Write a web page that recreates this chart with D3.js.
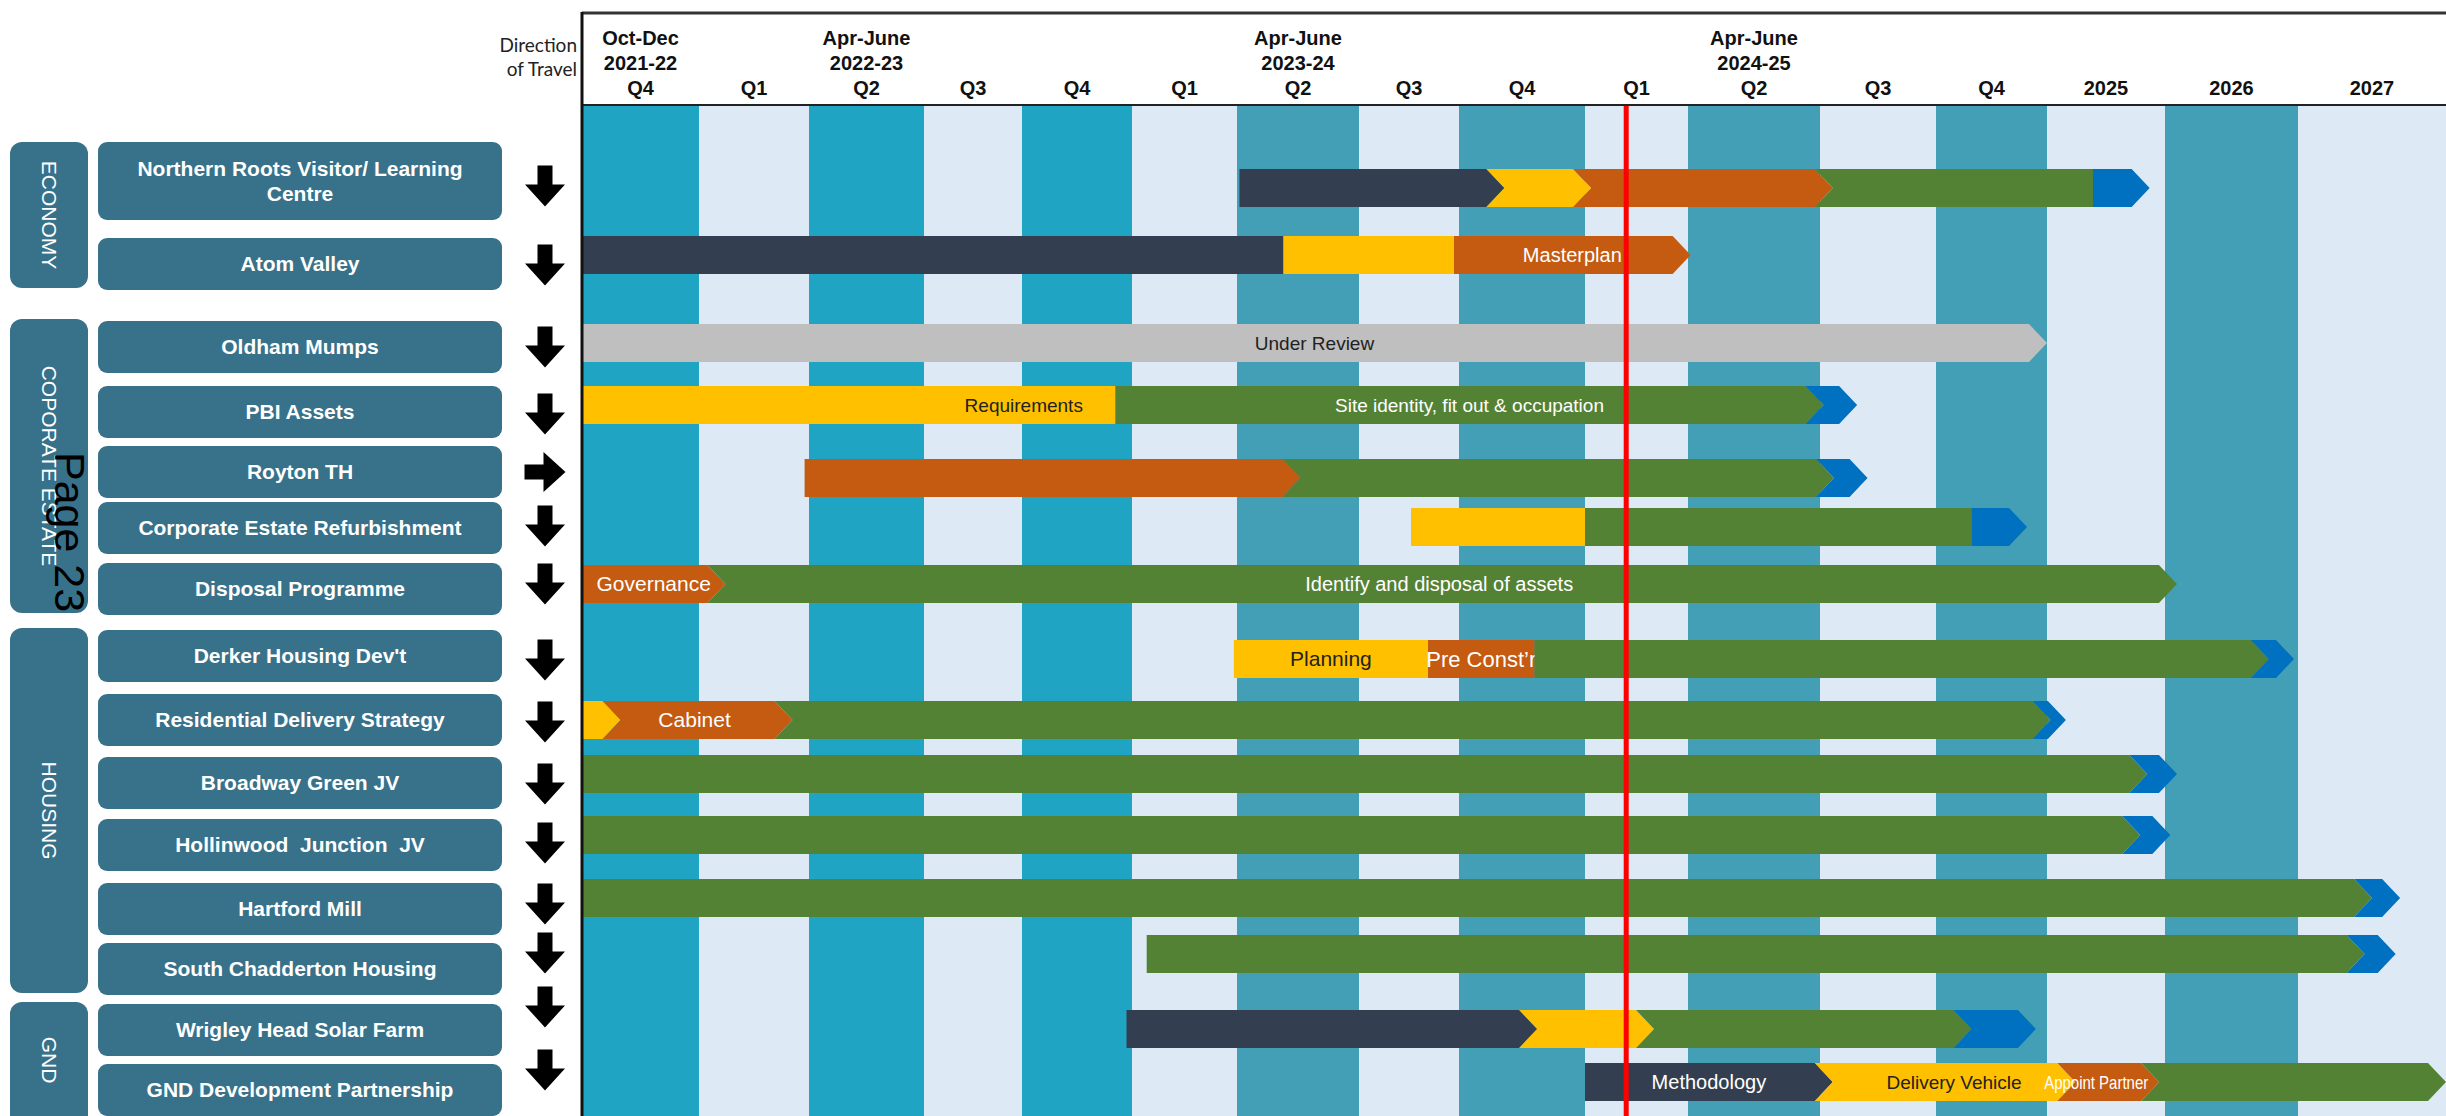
<!DOCTYPE html>
<html><head><meta charset="utf-8">
<script src="https://cdn.jsdelivr.net/npm/d3@7"></script>
<style>html,body{margin:0;padding:0;background:#fff;overflow:hidden} text{white-space:pre}</style>
</head><body>
<svg id="chart" width="2446" height="1116"></svg>
<script>
// ---------------- DATA ----------------
const periods = ["Q4","Q1","Q2","Q3","Q4","Q1","Q2","Q3","Q4","Q1","Q2","Q3","Q4","2025","2026","2027"];
const periodTone = ["a","b","a","b","a","b","c","b","c","b","c","b","c","b","c","b"];
const headCols = [0, 2, 6, 10];
const headMonths = ["Oct-Dec", "Apr-June", "Apr-June", "Apr-June"];
const headYears = ["2021-22", "2022-23", "2023-24", "2024-25"];

const projects = [
  "Northern Roots Visitor/ Learning\nCentre", "Atom Valley",
  "Oldham Mumps", "PBI Assets", "Royton TH", "Corporate Estate Refurbishment", "Disposal Programme",
  "Derker Housing Dev't", "Residential Delivery Strategy", "Broadway Green JV", "Hollinwood  Junction  JV",
  "Hartford Mill", "South Chadderton Housing",
  "Wrigley Head Solar Farm", "GND Development Partnership"
];
const directions = ["down","down","down","down","right","down","down","down","down","down","down","down","down","down","down"];

const groupNames = ["ECONOMY", "COPORATE ESTATE", "HOUSING", "GND"];
const groupFirst = [0, 2, 7, 13];
const groupLast  = [1, 6, 12, 14];

const today = 9.4; // position on the period axis

// segments per project: [start, end, phase, shape, label]
const segments = [
  [[6.02,8.36,"design","pent"],[8.36,9.06,"procure","chev"],[9.06,11.11,"prep","chev"],[11.11,13.39,"deliver","notch"],[13.39,13.87,"complete","pent"]],
  [[0,6.38,"design","rect"],[6.38,7.95,"procure","rect"],[7.95,10.02,"prep","pent","Masterplan"]],
  [[0,13.0,"review","pent","Under Review"]],
  [[0,4.85,"procure","rect","Requirements"],[4.85,11.03,"deliver","pent","Site identity, fit out & occupation"],[11.03,11.32,"complete","chev"]],
  [[1.96,6.52,"prep","pent"],[6.52,11.12,"deliver","chev"],[11.12,11.41,"complete","chev"]],
  [[7.52,9.0,"procure","rect"],[9.0,12.32,"deliver","rect"],[12.32,12.82,"complete","pent"]],
  [[0,1.24,"prep","pent","Governance"],[1.24,14.09,"deliver","chev","Identify and disposal of assets"]],
  [[5.97,7.69,"procure","rect","Planning"],[7.69,8.6,"prep","rect","Pre Const\u2019r"],[8.6,14.78,"deliver","pent"],[14.78,14.97,"complete","chev"]],
  [[0,0.33,"procure","pent"],[0.33,1.85,"prep","chev","Cabinet"],[1.85,13.03,"deliver","chev"],[13.03,13.16,"complete","chev"]],
  [[0,13.85,"deliver","pent"],[13.85,14.09,"complete","chev"]],
  [[0,13.79,"deliver","pent"],[13.79,14.04,"complete","chev"]],
  [[0,15.5,"deliver","pent"],[15.5,15.69,"complete","chev"]],
  [[5.14,15.45,"deliver","pent"],[15.45,15.66,"complete","chev"]],
  [[4.95,8.62,"design","pent"],[8.62,9.67,"procure","chev"],[9.67,12.32,"deliver","chev"],[12.32,12.9,"complete","chev"]],
  [[9.0,11.11,"design","pent","Methodology"],[11.11,13.24,"procure","chev","Delivery Vehicle"],[13.24,13.95,"prep","chev","Appoint Partner"],[13.95,16,"deliver","chev"]]
];

// ---------------- LAYOUT / STYLE ----------------
const W = 2446, H = 1116;
const colEdges = [582, 699, 809, 924, 1022, 1132, 1237, 1359, 1459, 1585, 1688, 1820, 1936, 2047, 2165, 2298, 2446];
const labelRowY = [181, 264, 347, 412, 472, 528, 589, 656, 720, 783, 845, 909, 969, 1030, 1090];
const barRowY   = [188, 255, 343, 405, 478, 527, 584, 659, 720, 774, 835, 898, 954, 1029, 1082];
const arrowRowY = [186, 265, 347, 414, 472, 526, 584, 660, 722, 784, 843, 904, 953, 1007, 1070];
const headerTop = 13, headerBottom = 106;
const barH = 38, pointD = 18;

const toneColor = {a: "#20A4C4", b: "#DDEAF5", c: "#439FB5"};
const phaseColor = {design: "#333F50", procure: "#FFC000", prep: "#C55A11", deliver: "#548235", complete: "#0070C0", review: "#BFBFBF"};
const darkText = {procure: true, review: true};
const labelSize = {"Appoint Partner": 19, "Pre Const\u2019r": 22, "Planning": 21, "Cabinet": 21, "Governance": 21, "Site identity, fit out & occupation": 19, "Requirements": 19, "Under Review": 19, "Delivery Vehicle": 19};
const labelShift = {"Requirements": 175, "Appoint Partner": -21, "Cabinet": -12, "Identify and disposal of assets": -12};
const labelFit = {"Appoint Partner": 104};
const boxColor = "#38718A";
const FONT = "'Liberation Sans', Arial, sans-serif";

const svg = d3.select("#chart");
const x = d3.scaleLinear().domain(d3.range(colEdges.length)).range(colEdges);
const yLab = d3.scaleLinear().domain(d3.range(projects.length)).range(labelRowY);
const yBar = d3.scaleLinear().domain(d3.range(projects.length)).range(barRowY);
const yArr = d3.scaleLinear().domain(d3.range(projects.length)).range(arrowRowY);

// background columns
svg.append("g").selectAll("rect").data(periods).join("rect")
  .attr("x", (d, i) => x(i)).attr("y", headerBottom)
  .attr("width", (d, i) => x(i + 1) - x(i)).attr("height", H - headerBottom)
  .attr("fill", (d, i) => toneColor[periodTone[i]]);

// header
svg.append("line").attr("x1", x(0)).attr("x2", W).attr("y1", headerTop).attr("y2", headerTop)
  .attr("stroke", "#333").attr("stroke-width", 3);
svg.append("line").attr("x1", x(0)).attr("x2", W).attr("y1", headerBottom - 1).attr("y2", headerBottom - 1)
  .attr("stroke", "#222").attr("stroke-width", 2);

const hdr = svg.append("g").attr("font-family", FONT).attr("font-weight", "bold").attr("font-size", 20)
  .attr("text-anchor", "middle").attr("fill", "#111");
hdr.selectAll("text.q").data(periods).join("text").attr("class", "q")
  .attr("x", (d, i) => (x(i) + x(i + 1)) / 2).attr("y", 95).text(d => d);
hdr.selectAll("text.m").data(headCols).join("text").attr("class", "m")
  .attr("x", c => (x(c) + x(c + 1)) / 2).attr("y", 45).text((c, i) => headMonths[i]);
hdr.selectAll("text.yr").data(headCols).join("text").attr("class", "yr")
  .attr("x", c => (x(c) + x(c + 1)) / 2).attr("y", 70).text((c, i) => headYears[i]);

const dot = svg.append("g").attr("font-family", "Lato, 'Liberation Sans', sans-serif").attr("font-size", 19)
  .attr("text-anchor", "end").attr("fill", "#222");
dot.append("text").attr("x", 577).attr("y", 52).text("Direction");
dot.append("text").attr("x", 577).attr("y", 76).text("of Travel");

// bars
function shapePath(s, yc) {
  const x0 = x(s[0]), x1 = x(s[1]);
  const notch = s[3] === "chev" || s[3] === "notch";
  const point = s[3] === "chev" || s[3] === "pent";
  const y0 = yc - barH / 2, y1 = yc + barH / 2;
  const xl = notch ? x0 - pointD : x0;
  const xr = point ? x1 - pointD : x1;
  const pts = [[xl, y0], [xr, y0]];
  if (point) pts.push([x1, yc]);
  pts.push([xr, y1], [xl, y1]);
  if (notch) pts.push([x0, yc]);
  return d3.line()(pts) + "Z";
}
const bars = svg.append("g");
segments.forEach((row, r) => {
  const yc = yBar(r);
  row.forEach(s => {
    bars.append("path").attr("d", shapePath(s, yc)).attr("fill", phaseColor[s[2]]);
    if (s[4]) {
      const tx = (x(s[0]) + x(s[1])) / 2 + (labelShift[s[4]] || 0);
      const t = bars.append("text").attr("x", tx).attr("y", yc).attr("dy", "0.35em")
        .attr("text-anchor", "middle").attr("font-family", FONT).attr("font-size", labelSize[s[4]] || 20)
        .attr("fill", darkText[s[2]] ? "#222" : "#fff").text(s[4]);
      if (labelFit[s[4]]) t.attr("textLength", labelFit[s[4]]).attr("lengthAdjust", "spacingAndGlyphs");
    }
  });
});

// today line
svg.append("line").attr("x1", x(today)).attr("x2", x(today)).attr("y1", headerBottom).attr("y2", H)
  .attr("stroke", "#FF0000").attr("stroke-width", 5);

// plot left border
svg.append("line").attr("x1", x(0)).attr("x2", x(0)).attr("y1", headerTop - 1).attr("y2", H)
  .attr("stroke", "#111").attr("stroke-width", 3);

// group boxes
const grp = svg.append("g");
groupNames.forEach((g, i) => {
  const top = yLab(groupFirst[i]) - (groupFirst[i] === 0 ? 39 : 28);
  const bottom = i === groupNames.length - 1 ? H + 20 : yLab(groupLast[i]) + 24;
  grp.append("rect").attr("x", 10).attr("y", top).attr("width", 78).attr("height", bottom - top)
    .attr("rx", 12).attr("fill", boxColor);
  const cy = i === groupNames.length - 1 ? (yLab(groupFirst[i]) + yLab(groupLast[i])) / 2 : (top + bottom) / 2;
  grp.append("text").attr("transform", `translate(49,${cy}) rotate(90)`)
    .attr("text-anchor", "middle").attr("dy", "0.35em").attr("font-family", FONT)
    .attr("font-size", 21).attr("fill", "#fff").text(g);
});

// label boxes + direction arrows
const lab = svg.append("g");
projects.forEach((p, i) => {
  const lines = p.split("\n");
  const h = lines.length > 1 ? 78 : 52;
  const yc = yLab(i);
  lab.append("rect").attr("x", 98).attr("y", yc - h / 2).attr("width", 404).attr("height", h)
    .attr("rx", 9).attr("fill", boxColor);
  const t = lab.append("text").attr("font-family", FONT).attr("font-weight", "bold").attr("font-size", 21)
    .attr("fill", "#fff").attr("text-anchor", "middle");
  lines.forEach((ln, k) => {
    t.append("tspan").attr("x", 300).attr("y", yc + (k - (lines.length - 1) / 2) * 25).attr("dy", "0.35em").text(ln);
  });
  const cx = 545, cyA = yArr(i);
  const top = cyA - 20.5, hs = cyA - 1.5, bot = cyA + 20.5;
  const ap = `M${cx-7.5},${top}L${cx+7.5},${top}L${cx+7.5},${hs}L${cx+20},${hs}L${cx},${bot}L${cx-20},${hs}L${cx-7.5},${hs}Z`;
  lab.append("path").attr("d", ap).attr("fill", "#000")
    .attr("transform", directions[i] === "right" ? `rotate(-90,${cx},${cyA})` : null);
});

// page marker
svg.append("text").attr("transform", "translate(55,452) rotate(90)").attr("font-family", FONT)
  .attr("font-size", 43).attr("fill", "#000").text("Page 23");
</script>
</body></html>
